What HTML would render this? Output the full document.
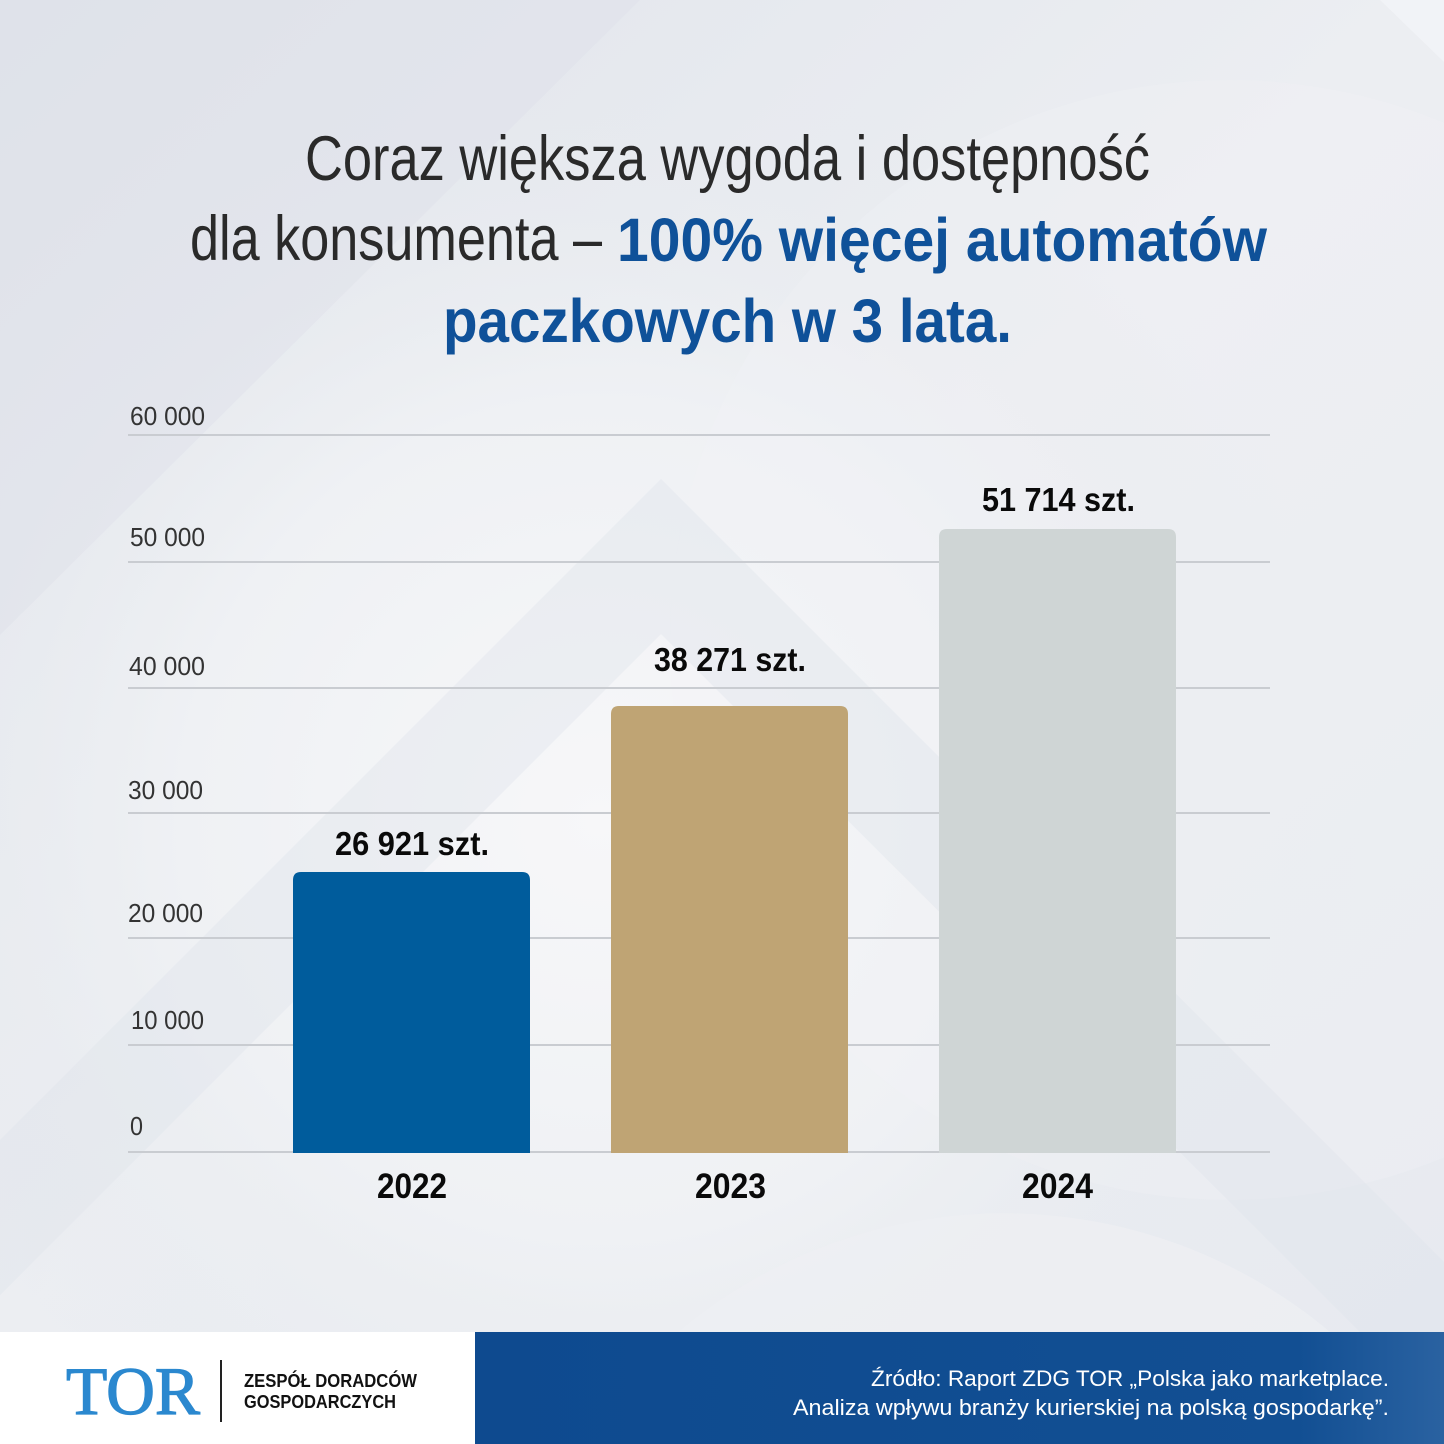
<!DOCTYPE html>
<html>
<head>
<meta charset="utf-8">
<style>
  html, body { margin:0; padding:0; width:1444px; height:1444px; overflow:hidden; background:#e9ecf1; }
  svg { display:block; }
  .thin { font-family: "Liberation Sans Narrow", "Liberation Sans", sans-serif; font-weight: normal; }
  .bold { font-family: "Liberation Sans Narrow", "Liberation Sans", sans-serif; font-weight: bold; }
  .sans { font-family: "Liberation Sans", sans-serif; }
  .serif { font-family: "Liberation Serif", serif; }
</style>
</head>
<body>
<svg width="1444" height="1444" viewBox="0 0 1444 1444" xmlns="http://www.w3.org/2000/svg">
  <defs>
    <radialGradient id="glow" cx="600" cy="820" r="760" gradientUnits="userSpaceOnUse">
      <stop offset="0" stop-color="#f7f7f9"/>
      <stop offset="0.55" stop-color="#eff1f4"/>
      <stop offset="1" stop-color="#e6e9ee" stop-opacity="0"/>
    </radialGradient>
    <linearGradient id="bg" x1="0" y1="0" x2="1" y2="1">
      <stop offset="0" stop-color="#e0e4eb"/>
      <stop offset="0.5" stop-color="#eceef2"/>
      <stop offset="1" stop-color="#e7eaf0"/>
    </linearGradient>
    <linearGradient id="foot" x1="0" y1="0" x2="1" y2="0">
      <stop offset="0" stop-color="#0e4a8f"/>
      <stop offset="0.85" stop-color="#124f93"/>
      <stop offset="1" stop-color="#2a62a1"/>
    </linearGradient>
  </defs>

  <!-- background -->
  <rect x="0" y="0" width="1444" height="1332" fill="url(#bg)"/>
  <rect x="0" y="0" width="1444" height="1332" fill="url(#glow)"/>
  <!-- top-left darker corner -->
  <polygon points="0,0 640,0 0,635" fill="#dde1e8" opacity="0.45"/>
  <!-- top-right light corner -->
  <polygon points="1380,0 1444,0 1444,62" fill="#f3f4f7" opacity="0.8"/>
  <!-- large light arc top-right (clipped to frame) -->
  <path d="M1444,122.5 A560,560 0 1,0 1444,1157.5 Z" fill="#f2f3f6" opacity="0.25"/>
  <!-- darker chevron band -->
  <polygon points="0,1140 661,479 1444,1262 1444,1332 1360,1332 661,634 0,1295" fill="#dfe3ea" opacity="0.4"/>
  <!-- light arc bottom-right (clipped to frame) -->
  <path d="M678,1332 A507,507 0 0,1 1330,1332 Z" fill="#edeff3" opacity="0.8"/>

  <!-- title -->
  <text class="thin" x="305" y="180" font-size="63" fill="#2a2a2a" textLength="845" lengthAdjust="spacingAndGlyphs">Coraz większa wygoda i dostępność</text>
  <text class="thin" x="190" y="260" font-size="63" fill="#2a2a2a" textLength="412" lengthAdjust="spacingAndGlyphs">dla konsumenta –</text>
  <text class="bold" x="617" y="261" font-size="61" fill="#0f5199" textLength="650" lengthAdjust="spacingAndGlyphs">100% więcej automatów</text>
  <text class="bold" x="443" y="342" font-size="61" fill="#0f5199" textLength="569" lengthAdjust="spacingAndGlyphs">paczkowych w 3 lata.</text>

  <!-- gridlines -->
  <g stroke="#c9ccd1" stroke-width="2">
    <line x1="128" y1="435" x2="1270" y2="435"/>
    <line x1="128" y1="562" x2="1270" y2="562"/>
    <line x1="128" y1="688" x2="1270" y2="688"/>
    <line x1="128" y1="813" x2="1270" y2="813"/>
    <line x1="128" y1="938" x2="1270" y2="938"/>
    <line x1="128" y1="1045" x2="1270" y2="1045"/>
    <line x1="128" y1="1152" x2="1270" y2="1152"/>
  </g>

  <!-- y axis labels -->
  <g class="thin" font-size="26" fill="#333333">
    <text x="130" y="425" textLength="75" lengthAdjust="spacingAndGlyphs">60 000</text>
    <text x="130" y="546" textLength="75" lengthAdjust="spacingAndGlyphs">50 000</text>
    <text x="129" y="675" textLength="76" lengthAdjust="spacingAndGlyphs">40 000</text>
    <text x="128" y="799" textLength="75" lengthAdjust="spacingAndGlyphs">30 000</text>
    <text x="128" y="922" textLength="75" lengthAdjust="spacingAndGlyphs">20 000</text>
    <text x="131" y="1029" textLength="73" lengthAdjust="spacingAndGlyphs">10 000</text>
    <text x="130" y="1135" textLength="13" lengthAdjust="spacingAndGlyphs">0</text>
  </g>

  <!-- bars -->
  <path d="M293,1153 L293,880 Q293,872 301,872 L522,872 Q530,872 530,880 L530,1153 Z" fill="#005c9c"/>
  <path d="M611,1153 L611,714 Q611,706 619,706 L840,706 Q848,706 848,714 L848,1153 Z" fill="#bfa474"/>
  <path d="M939,1153 L939,537 Q939,529 947,529 L1168,529 Q1176,529 1176,537 L1176,1153 Z" fill="#cfd5d5"/>

  <!-- value labels -->
  <g class="bold" font-size="33" fill="#0a0a0a">
    <text x="335" y="855" textLength="154" lengthAdjust="spacingAndGlyphs">26 921 szt.</text>
    <text x="654" y="671" textLength="152" lengthAdjust="spacingAndGlyphs">38 271 szt.</text>
    <text x="982" y="511" textLength="153" lengthAdjust="spacingAndGlyphs">51 714 szt.</text>
  </g>

  <!-- x labels -->
  <g class="bold" font-size="35" fill="#0a0a0a">
    <text x="377" y="1198" textLength="70" lengthAdjust="spacingAndGlyphs">2022</text>
    <text x="695" y="1198" textLength="71" lengthAdjust="spacingAndGlyphs">2023</text>
    <text x="1022" y="1198" textLength="71" lengthAdjust="spacingAndGlyphs">2024</text>
  </g>

  <!-- footer -->
  <rect x="0" y="1332" width="475" height="112" fill="#ffffff"/>
  <rect x="475" y="1332" width="969" height="112" fill="url(#foot)"/>

  <text class="serif" x="66" y="1414" font-size="68" fill="#2b88cf" stroke="#2b88cf" stroke-width="1.2" textLength="134" lengthAdjust="spacingAndGlyphs">TOR</text>
  <line x1="221" y1="1360" x2="221" y2="1422" stroke="#222" stroke-width="2"/>
  <text class="bold" x="244" y="1387" font-size="18" fill="#111" textLength="173" lengthAdjust="spacingAndGlyphs">ZESPÓŁ DORADCÓW</text>
  <text class="bold" x="244" y="1408" font-size="18" fill="#111" textLength="152" lengthAdjust="spacingAndGlyphs">GOSPODARCZYCH</text>

  <text class="sans" x="871" y="1386" font-size="22" fill="#ffffff" textLength="518" lengthAdjust="spacingAndGlyphs">Źródło: Raport ZDG TOR „Polska jako marketplace.</text>
  <text class="sans" x="793" y="1415" font-size="22" fill="#ffffff" textLength="596" lengthAdjust="spacingAndGlyphs">Analiza wpływu branży kurierskiej na polską gospodarkę”.</text>
</svg>
</body>
</html>
